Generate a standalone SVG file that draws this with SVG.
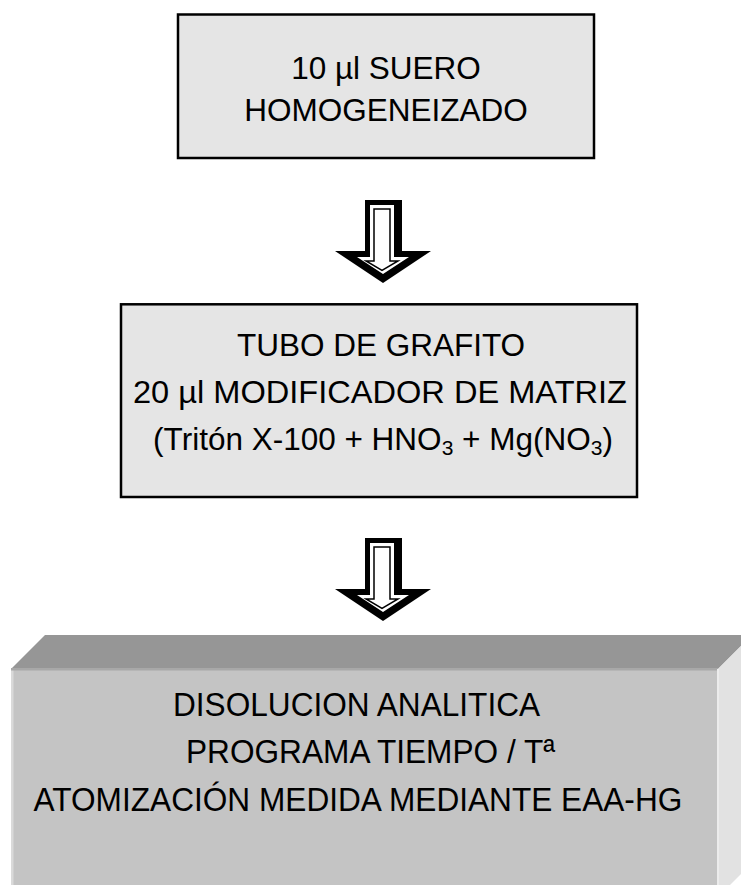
<svg xmlns="http://www.w3.org/2000/svg" xmlns:xlink="http://www.w3.org/1999/xlink" width="741" height="885" viewBox="0 0 741 885">
  <style>
    .box { fill: #e5e5e5; stroke: #000; stroke-width: 2.5; }
    .t { font-family: "Liberation Sans", Arial, sans-serif; font-size: 31.5px; fill: #000; text-anchor: middle; }
    .t3 { font-family: "Liberation Sans", Arial, sans-serif; font-size: 34px; fill: #000; text-anchor: middle; }
    .sub { font-size: 21px; }
  </style>
  <defs>
    <g id="blockArrow">
      <path d="M365,200 H402 V251 H431 L383,283 L335,251 H365 Z" fill="#000"/>
      <path d="M370,205 H394 V257 H409 L383,274 L357,257 H370 Z" fill="#fff"/>
      <path d="M374,209 H390 V261 H398 L382,270.5 L366,261 H374 Z" fill="#fff" stroke="#000" stroke-width="1.5"/>
    </g>
  </defs>
  <rect width="741" height="885" fill="#fff"/>

  <g id="connectors">
    <use id="arrow-1" xlink:href="#blockArrow"/>
    <use id="arrow-2" xlink:href="#blockArrow" transform="translate(0,338)"/>
  </g>

  <g id="node-1">
    <rect class="box" x="178" y="14.5" width="416" height="143.5"/>
    <text class="t" x="386" y="79">10 µl SUERO</text>
    <text class="t" x="386" y="121">HOMOGENEIZADO</text>
  </g>

  <g id="node-2">
    <rect class="box" x="121" y="304.3" width="516" height="192.7"/>
    <text class="t" x="381" y="356">TUBO DE GRAFITO</text>
    <text class="t" x="380" y="403" textLength="494" lengthAdjust="spacingAndGlyphs">20 µl MODIFICADOR DE MATRIZ</text>
    <text class="t" x="383" y="450">(Tritón X-100 + HNO<tspan class="sub" dy="5">3</tspan><tspan dy="-5"> + Mg(NO</tspan><tspan class="sub" dy="5">3</tspan><tspan dy="-5">)</tspan></text>
  </g>

  <g id="node-3">
    <polygon points="11,669 45,635 752,635 718,669" fill="#969696"/>
    <rect x="11" y="669" width="707" height="228" fill="#c4c4c4"/>
    <rect x="11" y="669" width="2.5" height="228" fill="#dadada"/>
    <rect x="11" y="668" width="707" height="2.5" fill="#a8a8a8"/>
    <polygon points="718,669 752,635 752,863 718,897" fill="#e2e2e2"/>
    <rect x="717" y="669" width="2" height="228" fill="#ececec"/>
    <g transform="matrix(0.93,0,0,1,25,0)">
      <text class="t3" x="356.5" y="716">DISOLUCION ANALITICA</text>
      <text class="t3" x="371.5" y="763">PROGRAMA TIEMPO / Tª</text>
      <text class="t3" x="358" y="811">ATOMIZACIÓN MEDIDA MEDIANTE EAA-HG</text>
    </g>
  </g>
</svg>
